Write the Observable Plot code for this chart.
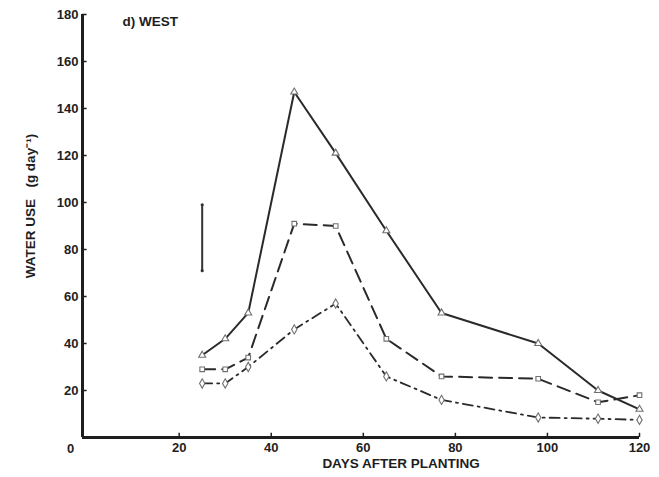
<!DOCTYPE html>
<html>
<head>
<meta charset="utf-8">
<script src="https://cdn.jsdelivr.net/npm/d3@7"></script>
<script src="https://cdn.jsdelivr.net/npm/@observablehq/plot@0.6"></script>
<style>
  html, body { margin: 0; padding: 0; background: white; }
  #chart svg { display: block; }
</style>
</head>
<body>
<div id="chart"></div>
<script>
const days = [25, 30, 35, 45, 54, 65, 77, 98, 111, 120];
const triangleValues = [35, 42, 53, 147, 121, 88, 53, 40, 20, 12];
const squareValues = [29, 29, 34, 91, 90, 42, 26, 25, 15, 18];
const diamondValues = [23, 23, 30, 46, 57, 26, 16, 8.5, 8, 7.5];
const errorBar = {day: 25, low: 71, high: 99};
const xTicks = [20, 40, 60, 80, 100, 120];
const yTicks = [20, 40, 60, 80, 100, 120, 140, 160, 180];
const titleText = "d) WEST";
const xLabel = "DAYS AFTER PLANTING";
const yLabel = "WATER USE   (g day\u207B\u00B9)";

const tri = days.map((d, i) => ({day: d, v: triangleValues[i]}));
const sq = days.map((d, i) => ({day: d, v: squareValues[i]}));
const dia = days.map((d, i) => ({day: d, v: diamondValues[i]}));

const ink = "#1e1e1e";
const font = "'Liberation Sans', Arial, sans-serif";

const chart = Plot.plot({
  width: 659,
  height: 477,
  marginLeft: 82,
  marginRight: 20,
  marginTop: 14,
  marginBottom: 40,
  x: {domain: [-1, 120]},
  y: {domain: [0, 180]},
  style: {fontFamily: font, background: "white", color: ink},
  marks: [
    // series lines
    Plot.line(tri, {x: "day", y: "v", stroke: "#2a2a2a", strokeWidth: 2}),
    Plot.line(sq, {x: "day", y: "v", stroke: "#2a2a2a", strokeWidth: 2, strokeDasharray: "13,7"}),
    Plot.line(dia, {x: "day", y: "v", stroke: "#2a2a2a", strokeWidth: 1.8, strokeDasharray: "10,5,2,5"}),
    // markers
    Plot.dot(tri, {x: "day", y: "v", symbol: "triangle", r: 2.6, stroke: "#707070", fill: "white", strokeWidth: 1.1}),
    Plot.dot(sq, {x: "day", y: "v", symbol: "square", r: 2.6, stroke: "#707070", fill: "white", strokeWidth: 1.1}),
    Plot.dot(dia, {x: "day", y: "v", symbol: "diamond", r: 2.8, stroke: "#707070", fill: "white", strokeWidth: 1.1}),
    // error bar
    Plot.ruleX([errorBar], {x: "day", y1: "low", y2: "high", stroke: "#333", strokeWidth: 2}),
    Plot.dot([errorBar.low, errorBar.high], {x: () => errorBar.day, y: d => d, r: 1.6, fill: "#333"}),
    // axes frame lines
    Plot.ruleY([0], {stroke: ink, strokeWidth: 3}),
    Plot.ruleX([-1], {stroke: ink, strokeWidth: 3}),
    // inward tick marks
    Plot.ruleY(yTicks, {y: d => d, x1: -1, x2: 0, stroke: ink, strokeWidth: 1.5}),
    Plot.ruleX(xTicks, {x: d => d, y1: 0, y2: 1.8, stroke: ink, strokeWidth: 1.5}),
    // tick labels
    Plot.axisX(xTicks, {tickSize: 0, tickPadding: 5, fontSize: 13, fontWeight: "bold", label: null}),
    Plot.axisY(yTicks, {tickSize: 0, tickPadding: 4, fontSize: 13, fontWeight: "bold", label: null}),
    Plot.text([0], {x: -1, y: 0, text: () => "0", dx: -12, dy: 11, fontSize: 13, fontWeight: "bold", fill: ink}),
    // title and labels
    Plot.text([titleText], {frameAnchor: "top-left", text: d => d, dx: 40, dy: 7, lineAnchor: "middle", textAnchor: "start", fontSize: 13.5, fontWeight: "bold", fill: ink}),
    Plot.text([xLabel], {frameAnchor: "bottom", text: d => d, dx: 40, dy: 26, lineAnchor: "middle", textAnchor: "middle", fontSize: 13.5, fontWeight: "bold", fill: ink}),
    Plot.text([yLabel], {frameAnchor: "left", text: d => d, rotate: -90, dx: -52, dy: -20, lineAnchor: "middle", textAnchor: "middle", fontSize: 13.5, fontWeight: "bold", fill: ink})
  ]
});
document.getElementById("chart").appendChild(chart);
</script>
</body>
</html>
